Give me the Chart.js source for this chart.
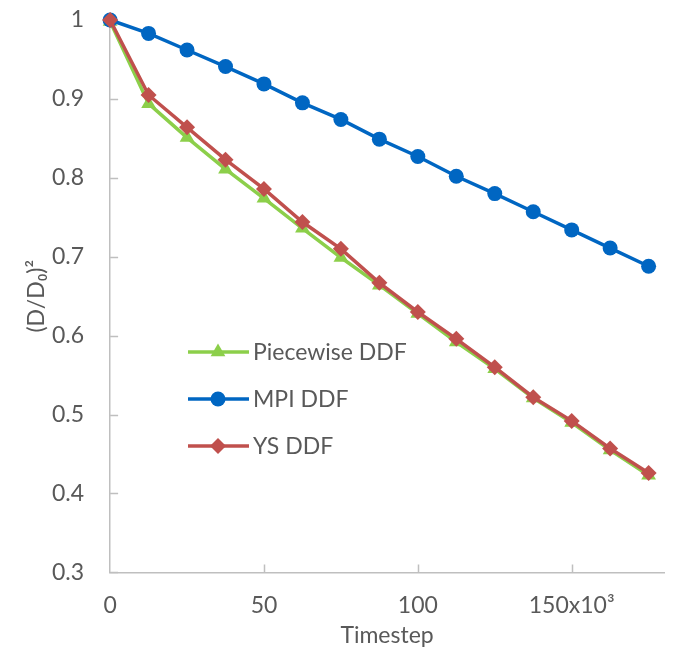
<!DOCTYPE html>
<html>
<head>
<meta charset="utf-8">
<script src="https://cdn.jsdelivr.net/npm/chart.js@4"></script>
<style>
  html, body { margin: 0; padding: 0; background: #fff; }
  #wrap { width: 674px; height: 647px; }
</style>
</head>
<body>
<div id="wrap"><canvas id="ddfChart" width="674" height="647"></canvas></div>
<script>
// DATA (timestep in units of 10^3)
const timesteps = [0, 12.5, 25, 37.5, 50, 62.5, 75, 87.5, 100, 112.5, 125, 137.5, 150, 162.5, 175];
const piecewiseDDF = [0.998, 0.894, 0.851, 0.811, 0.774, 0.736, 0.699, 0.664, 0.628, 0.592, 0.558, 0.521, 0.490, 0.455, 0.423];
const mpiDDF = [1.0, 0.983, 0.962, 0.941, 0.919, 0.895, 0.874, 0.849, 0.827, 0.802, 0.780, 0.757, 0.734, 0.711, 0.688];
const ysDDF = [1.0, 0.905, 0.864, 0.823, 0.786, 0.744, 0.710, 0.667, 0.630, 0.596, 0.560, 0.522, 0.492, 0.457, 0.426];
const xTicks = [0, 50, 100, 150];
const legendNames = ['Piecewise DDF', 'MPI DDF', 'YS DDF'];

const FONT = 'Lato, "Open Sans", sans-serif';
const TEXT = '#595959';
const AXIS = '#BFBFBF';

const toPts = arr => arr.map((v, i) => ({ x: timesteps[i], y: v }));

function series(label, data, color, style, radius, order) {
    return {
        label, data: toPts(data), borderColor: color, backgroundColor: color,
        borderWidth: 3.5, pointStyle: style, pointRadius: radius, pointBorderWidth: 0,
        pointHoverRadius: radius, tension: 0, order, clip: false
    };
}

// small tick marks pointing into the plot, like the Excel original
const innerTicks = {
    id: 'innerTicks',
    beforeDatasetsDraw(chart) {
        const { ctx, scales: { x, y } } = chart;
        ctx.save();
        ctx.strokeStyle = AXIS;
        ctx.lineWidth = 1.5;
        ctx.beginPath();
        y.ticks.forEach(t => {
            const py = Math.round(y.getPixelForValue(t.value)) + 0.5;
            ctx.moveTo(x.left, py); ctx.lineTo(x.left + 8, py);
        });
        x.ticks.forEach(t => {
            if (t.value === 0) return;
            const px = Math.round(x.getPixelForValue(t.value)) + 0.5;
            ctx.moveTo(px, y.bottom); ctx.lineTo(px, y.bottom - 8);
        });
        ctx.stroke();
        ctx.restore();
    }
};

// legend drawn inside the plot, Excel style
const insideLegend = {
    id: 'insideLegend',
    afterDraw(chart) {
        const ctx = chart.ctx;
        const byName = {};
        chart.data.datasets.forEach(ds => byName[ds.label] = ds);
        ctx.save();
        legendNames.forEach((name, i) => {
            const ds = byName[name];
            const y = 352 + i * 47;
            ctx.strokeStyle = ds.borderColor;
            ctx.lineWidth = 3.5;
            ctx.beginPath(); ctx.moveTo(188, y); ctx.lineTo(249, y); ctx.stroke();
            ctx.fillStyle = ds.backgroundColor;
            Chart.helpers.drawPoint(ctx, { pointStyle: ds.pointStyle, radius: ds.pointRadius, borderWidth: 0, rotation: 0 }, 218, y);
            ctx.fillStyle = TEXT;
            ctx.font = '23px ' + FONT;
            ctx.textBaseline = 'middle';
            ctx.fillText(name, 253, y + 1);
        });
        ctx.restore();
    }
};

new Chart(document.getElementById('ddfChart'), {
    type: 'line',
    data: {
        datasets: [
            series('YS DDF', ysDDF, '#C0504D', 'rectRot', 8, 0),
            series('MPI DDF', mpiDDF, '#0066C2', 'circle', 7.5, 1),
            series('Piecewise DDF', piecewiseDDF, '#8CCF4A', 'triangle', 8.5, 2)
        ]
    },
    options: {
        responsive: false,
        animation: false,
        layout: { autoPadding: false, padding: { top: 20, right: 10, left: 25, bottom: 0 } },
        plugins: { legend: { display: false }, tooltip: { enabled: false } },
        scales: {
            x: {
                type: 'linear', min: 0, max: 180,
                afterBuildTicks: axis => { axis.ticks = xTicks.map(v => ({ value: v })); },
                ticks: {
                    color: TEXT, font: { family: FONT, size: 23 }, padding: 4, maxRotation: 0,
                    callback: v => v === 150 ? '150x10\u00B3' : String(v)
                },
                grid: { display: true, drawOnChartArea: false, drawTicks: true, tickLength: 15, color: 'rgba(0,0,0,0)' },
                border: { color: AXIS, width: 1.5 },
                title: { display: true, text: 'Timestep', color: TEXT, font: { family: FONT, size: 23, lineHeight: 1 }, padding: { top: 1, bottom: 0 } }
            },
            y: {
                min: 0.3, max: 1,
                ticks: {
                    stepSize: 0.1, color: TEXT, font: { family: FONT, size: 23 }, padding: 4,
                    callback: v => Math.abs(v - 1) < 1e-9 ? '1' : v.toFixed(1)
                },
                grid: { display: true, drawOnChartArea: false, drawTicks: true, tickLength: 22, color: 'rgba(0,0,0,0)' },
                border: { color: AXIS, width: 1.5 },
                title: { display: true, text: '(D/D\u2080)\u00B2', color: TEXT, font: { family: FONT, size: 23, lineHeight: 1 }, padding: { top: 0, bottom: 0 } }
            }
        }
    },
    plugins: [innerTicks, insideLegend]
});
</script>
</body>
</html>
